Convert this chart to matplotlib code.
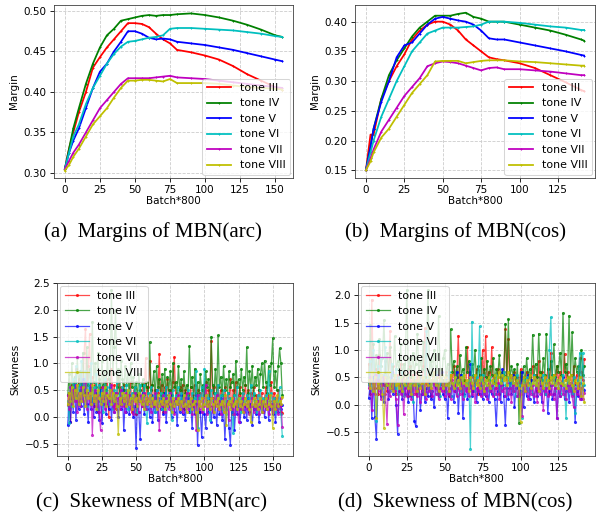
import numpy as np
import matplotlib.pyplot as plt

tones = ["tone III", "tone IV", "tone V", "tone VI", "tone VII", "tone VIII"]
colors = ["r", "g", "b", "c", "m", "y"]

# (a) margins of MBN(arc)
xa = [0, 3, 6, 10, 15, 20, 25, 30, 35, 40, 45, 50, 55, 60, 65, 70, 75, 80, 90, 100, 110, 120, 130, 140, 150, 155]
ma_3 = [.305, .33, .35, .375, .40, .43, .443, .455, .465, .475, .485, .485, .484, .48, .472, .465, .46, .452, .449, .445, .44, .432, .422, .414, .406, .403]
ma_4 = [.305, .33, .355, .38, .41, .435, .455, .47, .478, .488, .49, .492, .494, .495, .494, .495, .495, .496, .497, .495, .492, .488, .483, .477, .470, .468]
ma_5 = [.305, .325, .34, .355, .38, .405, .425, .435, .45, .462, .475, .475, .472, .467, .465, .466, .465, .462, .46, .458, .455, .452, .448, .444, .44, .438]
ma_6 = [.305, .325, .345, .36, .385, .405, .42, .435, .447, .456, .462, .463, .465, .467, .468, .47, .478, .479, .479, .478, .477, .476, .474, .472, .469, .468]
ma_7 = [.305, .315, .325, .335, .35, .365, .38, .39, .40, .41, .417, .417, .417, .417, .418, .419, .420, .418, .417, .416, .414, .412, .41, .408, .406, .405]
ma_8 = [.303, .31, .32, .33, .345, .36, .37, .38, .393, .405, .414, .414, .415, .415, .414, .413, .416, .411, .411, .411, .41, .408, .406, .405, .404, .403]

# (b) margins of MBN(cos)
xb = [0, 3, 5, 10, 15, 20, 25, 30, 35, 40, 45, 50, 55, 60, 65, 70, 75, 80, 85, 90, 100, 110, 120, 130, 140, 142]
mb_3 = [.15, .21, .21, .27, .30, .325, .345, .37, .385, .395, .40, .40, .395, .385, .37, .36, .35, .34, .337, .335, .33, .322, .31, .298, .285, .283]
mb_4 = [.15, .19, .22, .27, .31, .335, .355, .375, .39, .40, .41, .41, .41, .413, .415, .408, .405, .40, .40, .40, .395, .39, .385, .378, .37, .368]
mb_5 = [.15, .19, .22, .265, .30, .34, .36, .365, .38, .395, .405, .408, .405, .402, .40, .395, .385, .372, .37, .37, .365, .36, .355, .35, .344, .343]
mb_6 = [.15, .18, .20, .24, .27, .30, .325, .35, .365, .38, .385, .39, .39, .39, .391, .392, .395, .40, .40, .40, .398, .395, .392, .39, .386, .386]
mb_7 = [.15, .17, .185, .215, .235, .255, .275, .29, .305, .325, .33, .333, .332, .33, .326, .322, .318, .322, .323, .32, .32, .318, .316, .313, .31, .31]
mb_8 = [.15, .165, .18, .205, .22, .24, .26, .28, .295, .31, .333, .334, .334, .334, .33, .332, .334, .335, .335, .335, .333, .332, .33, .328, .326, .326]

# (c) skewness of MBN(arc), one value per batch step
sc_3 = [0.22, 0.45, -0.10, 0.60, 0.35, 0.55, 0.90, 0.30, 0.70, 0.50,
        0.85, 0.40, 1.20, 1.65, 0.45, 0.95, 1.55, 0.30, 0.75, 0.20,
        0.60, 0.45, 0.10, 0.80, 0.35, 0.55, 0.25, 0.65, 0.40, 0.70,
        0.00, 0.50, 0.90, 0.30, 0.60, 0.15, 0.45, 0.75, 0.25, 0.55,
        0.35, 0.60, 0.20, 0.50, 0.40, 0.30, 0.65, 0.10, 0.45, 0.55,
        0.05, 0.40, 0.30, 0.50, 0.20, 0.60, 0.45, 1.10, 0.30, 0.55,
        1.05, 0.40, 0.60, 0.20, 0.50, 0.35, 0.45, 1.18, 0.25, 0.60,
        0.10, 0.55, 0.40, 0.70, 0.30, 0.50, 0.20, 0.65, 1.12, 0.35,
        0.45, 0.25, 0.55, 0.40, 0.60, 0.15, 0.50, 0.35, 0.45, 0.30,
        0.55, 0.20, 0.40, 0.60, 0.25, 0.50, 0.10, 0.45, 0.35, 0.55,
        0.40, 0.65, 0.30, 0.50, 0.20, 1.42, 0.35, 0.55, 0.25, 0.45,
        0.60, 0.30, 0.50, 0.15, 0.40, 0.55, 0.25, 0.45, 0.35, 0.70,
        0.05, 0.50, 0.30, 0.65, 0.20, 0.40, 0.55, 0.25, 0.45, 0.35,
        0.60, 0.30, 0.50, 0.10, 0.45, 0.35, 0.55, 0.20, 0.40, 0.30,
        0.50, 0.25, 0.45, 0.10, 0.35, 0.55, 0.20, 0.40, 0.30, 0.65,
        0.25, 0.45, 0.35, 0.15, 0.50, 0.20, 0.10, 0.08]
sc_4 = [0.40, 0.80, 0.30, 1.00, 0.55, 0.75, 0.40, 1.10, 0.60, 0.85,
        0.50, 1.20, 0.70, 0.45, 1.30, 0.60, 0.90, 0.50, 1.78, 0.65,
        1.00, 0.55, 1.20, 0.70, 0.40, 1.05, 0.60, 0.85, 0.50, 1.10,
        0.70, 0.60, 2.36, 0.80, 1.30, 2.00, 0.55, 0.90, 0.45, 1.05,
        0.70, 0.50, 0.95, 0.60, 0.80, 0.40, 1.00, 0.55, 0.75, 0.45,
        0.65, 0.35, 0.80, 0.50, 0.60, 0.70, 0.40, 0.65, 0.55, 0.45,
        1.40, 0.50, 0.60, 0.85, 0.35, 0.95, 0.55, 0.70, 0.40, 0.80,
        0.45, 0.90, 0.35, 0.75, 0.50, 0.85, 0.40, 1.00, 0.55, 0.65,
        0.40, 0.95, 0.50, 0.70, 0.30, 0.85, 0.45, 0.60, 0.40, 1.32,
        0.55, 0.75, 0.35, 0.90, 0.45, 0.65, 0.30, 0.80, 0.50, 0.60,
        0.40, 0.85, 0.55, 0.70, 0.35, 1.50, 0.60, 0.45, 0.90, 0.40,
        1.52, 0.55, 0.75, 0.40, 0.95, 0.50, 0.70, 0.45, 0.85, 0.55,
        0.65, 0.80, 0.40, 1.05, 0.55, 0.70, 0.45, 0.90, 0.50, 0.75,
        0.60, 1.30, 0.45, 0.85, 0.55, 0.95, 0.40, 0.75, 0.60, 0.90,
        0.50, 0.80, 1.00, 0.55, 1.05, 0.65, 0.45, 0.95, 0.60, 1.00,
        1.47, 0.55, 0.85, 0.50, 0.95, 1.28, 1.00, 0.40]
sc_5 = [-0.15, 0.30, -0.10, 0.45, 0.10, 0.60, -0.05, 0.35, 0.15, 0.50,
        0.20, 0.70, 0.05, 0.40, 0.25, -0.10, 0.55, 0.15, 0.35, 0.00,
        0.45, 0.10, 0.30, -0.05, 0.50, -0.12, 0.25, 0.40, 0.05, 0.35,
        0.15, 0.55, -0.05, 0.30, 0.10, 0.45, 0.20, 0.00, 0.35, 0.15,
        0.50, -0.25, 0.30, 0.10, 0.40, 0.05, 0.25, 0.35, 0.00, 0.20,
        -0.58, 0.30, 0.10, -0.42, 0.25, 0.45, 0.05, 0.35, 0.15, 0.30,
        0.00, 0.40, -0.10, 0.25, 0.10, 0.50, -0.05, 0.30, 0.15, 0.35,
        0.05, 0.45, -0.10, 0.25, 0.20, 0.40, 0.00, 0.30, 0.10, 0.35,
        -0.15, 0.25, 0.10, 0.40, 0.05, 0.30, -0.05, 0.20, 0.35, 0.10,
        0.25, -0.20, 0.30, 0.05, 0.40, -0.52, 0.20, 0.10, -0.38, 0.25,
        0.05, -0.20, 0.30, 0.10, 0.35, -0.10, 0.20, 0.00, 0.30, -0.15,
        0.25, 0.05, 0.35, -0.05, 0.20, -0.42, 0.15, 0.30, -0.20, -0.52,
        0.10, 0.25, -0.25, 0.20, 0.05, 0.35, -0.10, 0.15, 0.30, 0.00,
        0.20, -0.05, 0.35, 0.10, 0.25, -0.15, 0.15, 0.30, 0.05, 0.20,
        -0.10, 0.25, 0.10, 0.30, 0.00, 0.20, 0.35, -0.05, 0.15, 0.25,
        0.05, 0.30, -0.10, 0.20, 0.10, 0.25, 0.15, 0.22]
sc_6 = [0.30, -0.12, 0.55, 0.20, 0.70, 0.35, 0.95, 0.25, 0.60, 0.45,
        1.05, 0.30, 0.50, 0.85, 0.20, 0.65, 0.40, 1.00, 0.25, 0.55,
        0.35, 0.80, 0.15, 0.60, 0.30, 0.50, 0.10, 0.70, 0.40, 0.55,
        0.25, 0.60, 0.35, 0.15, 0.50, 0.30, 0.65, 0.20, 0.45, 0.35,
        0.55, 0.25, 0.40, 0.60, 0.15, 0.50, 0.30, 0.45, 0.20, 0.55,
        0.35, 0.10, 0.45, 0.60, 0.25, 0.40, 0.60, 0.15, -0.12, 0.45,
        0.30, 0.55, 0.20, 0.40, 0.10, 0.50, 0.35, 0.25, 0.45, 0.15,
        0.40, 0.30, 0.55, 0.20, 0.45, 0.35, -0.05, 0.50, 0.25, 0.40,
        0.30, 0.55, 0.15, 0.45, 0.25, 0.40, 0.35, 0.20, 0.50, 0.30,
        0.10, 0.45, 0.25, 0.35, 0.85, -0.20, 0.40, 0.30, 0.55, 0.15,
        0.90, 0.25, 0.40, 0.35, -0.05, 0.50, 0.30, 0.20, 0.45, 0.35,
        0.60, 0.25, 0.40, 0.15, 0.50, 0.30, 0.05, 0.45, 0.25, 0.35,
        0.15, -0.30, 0.40, 0.25, 0.55, 0.20, 0.35, 0.10, 0.45, 0.30,
        0.25, 0.40, 0.15, 0.35, 0.60, 0.20, 0.45, 0.30, 0.10, 0.40,
        0.25, 0.50, 0.15, 0.35, 0.20, 0.40, 0.30, 0.85, 0.25, 0.45,
        0.20, 0.35, 0.10, 0.30, 0.15, 0.55, 0.05, -0.35]
sc_7 = [0.40, 0.15, 0.55, 0.25, 0.50, 0.30, 0.60, 0.10, 0.45, 0.20,
        0.55, 0.30, 0.40, 0.65, 0.15, 0.45, 0.25, 0.60, -0.33, 0.35,
        0.50, 0.20, 0.40, 0.10, -0.25, 0.35, 0.55, 0.15, 0.45, 0.25,
        0.40, 0.30, 0.60, 0.20, 0.10, 0.45, 0.25, 0.35, 0.15, 0.50,
        0.20, 0.35, 0.10, 0.45, 0.25, 0.40, 0.15, 0.30, 0.05, 0.45,
        0.25, 0.35, 0.10, 0.40, 0.20, 0.30, 0.45, 0.15, 0.35, 0.25,
        0.40, 0.10, 0.30, 0.20, 0.45, 0.15, 0.35, -0.25, 0.30, 0.20,
        0.40, 0.10, 0.35, 0.25, 0.15, 0.45, 0.20, 0.30, 0.05, 0.35,
        0.25, 0.40, 0.15, 0.30, 0.10, 0.35, 0.20, 0.45, 0.15, 0.25,
        0.35, 0.05, 0.30, 0.20, -0.25, 0.40, 0.15, 0.30, 0.10, 0.35,
        0.20, 0.60, 0.05, 0.25, 0.15, 0.35, 0.10, 0.30, 0.20, 0.40,
        0.15, 0.30, 0.05, 0.25, 0.35, 0.10, 0.20, 0.30, -0.05, 0.25,
        0.15, 0.35, 0.05, 0.20, 0.30, -0.10, 0.25, 0.15, 0.35, 0.10,
        0.25, 0.15, 0.30, 0.05, 0.20, 0.35, 0.10, 0.25, 0.15, 0.30,
        0.05, 0.20, 0.30, 0.10, 0.25, 0.15, 0.35, 0.05, 0.20, 0.25,
        0.10, 0.30, 0.15, 0.25, 0.05, 0.20, 0.35, -0.18]
sc_8 = [0.25, 0.45, 0.30, 0.55, 0.20, 0.50, 0.35, 0.60, 0.25, 0.45,
        0.30, 0.55, 0.40, 0.20, 0.50, 0.35, 0.45, 0.25, 0.60, 0.30,
        0.40, 0.15, 0.50, 0.35, 0.25, 0.45, 0.30, 0.55, 0.20, 0.40,
        0.35, 0.50, 0.25, 0.45, 0.30, 0.40, 0.20, -0.32, 0.35, 0.25,
        0.45, 0.30, 0.40, 0.20, 0.50, 0.25, 0.35, 0.15, 0.40, 0.30,
        0.35, 0.20, 0.45, 0.30, 0.25, 0.40, 0.15, 0.35, 0.25, 0.30,
        0.40, 0.20, 0.35, 0.25, 0.30, 0.15, 0.40, 0.20, 0.30, 0.25,
        0.35, 0.15, 0.30, 0.20, 0.40, 0.25, 0.10, 0.35, 0.20, 0.30,
        0.25, 0.35, 0.15, 0.30, 0.20, 0.40, 0.25, 0.10, 0.30, 0.20,
        0.35, 0.15, 0.25, 0.30, 0.10, -0.25, 0.30, 0.20, 0.35, 0.15,
        0.25, 0.40, 0.20, 0.30, 0.15, 0.35, 0.25, 0.10, 0.30, 0.20,
        0.35, 0.15, 0.25, 0.30, 0.10, 0.40, -0.15, 0.25, 0.30, 0.15,
        0.35, 0.20, 0.25, 0.30, 0.15, 0.35, 0.20, 0.30, 0.10, 0.25,
        0.35, 0.20, 0.30, 0.15, -0.10, 0.25, 0.35, 0.20, 0.30, 0.15,
        0.25, 0.35, 0.10, 0.30, 0.20, 0.35, 0.15, 0.25, 0.40, 0.20,
        -0.20, 0.30, 0.15, 0.40, 0.20, 0.30, 0.25, 0.38]

# (d) skewness of MBN(cos)
sd_3 = [0.75, 0.20, 1.92, 0.50, 0.30, 0.65, 0.20, 0.90, 0.40, 0.55,
        0.35, 0.80, 0.25, 0.60, 1.35, 0.30, 0.70, 0.45, 0.20, 0.55,
        0.40, 0.75, 0.25, 0.60, 0.35, 0.50, 0.15, 0.70, 0.30, 0.55,
        0.45, 0.20, 0.60, 0.35, 0.50, 0.25, 0.70, 1.40, 0.40, 0.30,
        0.55, 0.15, 0.45, 0.60, 0.30, 0.50, 0.20, 0.65, 0.35, 0.45,
        0.25, 0.60, 0.40, 0.15, 0.55, 0.35, 0.70, 0.30, 0.50, 1.26,
        0.40, 0.55, 0.20, 0.45, 0.35, 1.05, 0.30, 0.60, 0.25, 0.50,
        0.40, 0.65, 0.20, 0.55, 0.35, 1.00, 0.30, 1.25, 0.45, 0.60,
        0.25, 1.05, 0.40, 0.55, 0.30, 0.65, 0.20, 0.50, 0.35, 0.60,
        1.38, 0.45, 1.20, 0.30, 0.55, 0.25, 0.60, 0.40, 0.50, 0.20,
        0.65, 0.35, 0.50, 0.25, 0.60, 0.40, 0.55, 0.30, 0.70, 0.45,
        0.55, 0.25, 0.80, 0.35, 0.60, 0.30, 0.50, 0.40, 0.65, 0.20,
        0.95, 0.45, 0.55, 0.30, 0.70, 0.40, 0.60, 0.35, 0.50, 0.93,
        0.45, 0.60, 0.35, 0.55, 0.25, 0.70, 0.40, 0.55, 0.30, 0.85,
        0.60, 0.45, 0.84]
sd_4 = [0.40, 1.45, 0.60, 1.10, 0.55, 0.90, 0.45, 1.20, 0.70, 0.85,
        1.55, 0.60, 0.95, 0.50, 1.05, 0.70, 0.55, 1.25, 0.65, 0.80,
        0.60, 1.10, 0.50, 0.75, 0.55, 2.10, 0.65, 0.85, 0.50, 0.95,
        0.60, 0.75, 1.30, 0.55, 0.80, 0.65, 1.15, 0.50, 0.90, 2.10,
        0.60, 0.80, 0.55, 1.00, 0.70, 0.50, 1.62, 0.65, 0.45, 0.85,
        1.00, 0.55, 0.75, 0.45, 1.38, 0.60, 0.80, 0.50, 0.70, 0.40,
        0.90, 0.55, 0.65, 0.45, 1.05, 0.60, 0.80, 0.40, 0.75, 0.55,
        1.00, 0.45, 0.70, 0.55, 0.85, 0.40, 0.65, 0.50, 0.80, 0.45,
        0.70, 0.55, 0.85, 0.40, 0.65, 0.50, 0.90, 0.45, 0.60, 0.55,
        1.48, 0.50, 1.56, 0.45, 0.70, 0.55, 0.65, 0.40, 0.75, -0.33,
        0.60, 0.45, 0.70, 0.35, 0.85, 0.50, 0.65, 0.45, 1.28, 0.55,
        0.75, 0.50, 1.30, 0.60, 0.45, 0.85, 0.55, 1.30, 0.65, 0.45,
        0.80, 0.55, 1.10, 0.50, 0.70, 0.60, 0.95, 0.55, 1.68, 0.60,
        0.75, 0.50, 1.63, 0.55, 1.32, 0.45, 0.85, 0.60, 0.70, 0.50,
        1.00, 0.55, 0.70]
sd_5 = [0.12, 0.40, -0.25, 0.50, -0.23, -0.62, 0.30, 0.55, 0.15, 0.40,
        0.05, 0.35, 0.50, 0.10, 0.30, 0.60, 0.20, 0.45, 0.00, -0.53,
        0.25, 0.40, 0.10, 0.35, 0.20, 0.50, 0.05, 0.30, 0.15, 0.40,
        -0.30, -0.40, 0.25, 0.35, -0.10, 0.20, 0.45, 0.05, 0.30, 0.15,
        0.40, 0.10, 0.25, -0.05, 0.35, 0.55, 0.15, 0.30, 0.60, 0.20,
        0.10, 0.45, -0.25, 0.30, 0.15, 0.40, 0.05, 0.25, 0.60, -0.15,
        0.30, 0.55, -0.25, 0.20, 0.40, 0.10, 0.35, 0.75, 0.15, 0.25,
        0.45, 0.05, 0.30, 0.20, 0.50, 0.10, 0.40, 0.15, 0.35, 0.05,
        0.30, 0.20, 0.45, 0.10, -0.38, 0.25, 0.35, 0.05, 0.65, 0.15,
        -0.37, 0.30, 0.10, 0.40, 0.20, 0.55, -0.05, 0.30, 0.45, 0.15,
        0.25, 0.60, -0.05, 0.35, 0.15, 0.55, 0.10, 0.45, 0.20, 0.05,
        0.35, 0.15, 0.25, 0.50, 0.05, 0.30, 0.20, 0.40, -0.15, 0.25,
        0.35, 0.10, 0.20, 0.45, -0.25, 0.30, 0.15, 0.35, 0.50, 0.10,
        0.25, 0.40, 0.05, 0.30, 0.20, 0.35, -0.32, 0.25, 0.15, 0.40,
        0.10, 0.35, 0.27]
sd_6 = [0.35, 0.80, 0.25, 1.00, 0.50, -0.30, 0.70, 0.40, 0.85, 0.30,
        0.55, 1.05, 0.35, 0.60, 0.25, 0.75, 0.45, 0.30, 0.65, 0.20,
        0.50, 0.35, 0.60, 0.15, 0.45, 0.30, 0.55, 0.25, 0.40, 0.05,
        0.50, 0.30, 0.40, 0.20, 0.55, 0.35, 0.25, 0.45, 1.35, 0.30,
        0.50, 0.25, 0.45, 0.35, 0.60, 0.20, 0.40, 0.15, 0.55, 0.30,
        0.45, 0.25, 0.35, 0.60, 0.15, 0.40, 0.30, 0.50, 0.20, 0.45,
        0.35, 0.25, 0.55, 0.15, 0.40, 0.30, 0.45, -0.81, 1.52, 0.35,
        0.25, 0.50, 0.40, 1.43, 0.30, 0.55, 0.20, 0.45, 0.35, 0.25,
        0.50, 0.30, 0.45, 0.20, 0.55, 0.35, 0.25, 0.45, 0.30, 0.60,
        0.35, 0.20, 0.50, 0.30, 0.45, 0.25, 0.40, 0.15, 0.55, 0.35,
        0.20, -0.25, 0.45, 0.30, 0.50, 0.25, 0.40, 0.35, 0.20, 0.55,
        0.30, 0.45, 0.25, 0.40, 0.35, 0.55, 0.20, 0.45, 0.30, 1.00,
        1.60, 0.35, 0.50, 0.25, 0.45, 0.30, 0.40, 0.20, 0.55, 0.35,
        -0.25, 0.45, 0.30, 0.40, 0.20, 0.50, -0.15, 0.35, 0.45, 0.95,
        0.30, 0.95, 0.36]
sd_7 = [0.30, 0.50, -0.10, 0.40, 0.20, 0.55, 0.25, 0.45, 0.10, 0.35,
        0.50, 0.20, -0.35, 0.40, 0.15, 0.30, 0.45, 0.25, 0.10, -0.37,
        0.35, 0.20, 0.45, -0.18, 0.30, 0.15, 0.40, 0.25, 0.10, 0.35,
        0.20, 0.45, 0.15, 0.30, 0.05, 0.40, 0.20, 0.35, 0.10, 0.45,
        0.25, 0.30, 0.15, 0.40, 0.20, 0.35, 0.10, 0.30, 0.25, 0.40,
        0.15, 0.35, 0.20, 0.30, 0.10, 0.45, 0.25, 0.35, 0.15, 0.30,
        0.20, 0.40, 0.10, 0.35, 0.25, 0.30, 0.15, 0.40, 0.20, 0.35,
        0.05, 0.30, 0.25, 0.40, 0.15, 0.35, 0.20, 0.30, 0.10, 0.40,
        0.25, 0.35, 0.15, 0.30, 0.20, 0.40, 0.10, 0.35, 0.25, 0.30,
        0.15, 0.40, 0.20, 0.30, 0.05, 0.35, 0.25, 0.40, 0.15, 0.30,
        0.20, -0.20, 0.35, 0.25, 0.40, 0.10, 0.30, 0.20, 0.35, 0.15,
        0.30, 0.05, 0.40, 0.20, 0.35, -0.10, 0.25, 0.30, 0.15, 0.40,
        0.20, 0.35, 0.10, 0.30, -0.25, 0.40, 0.15, 0.35, 0.20, 0.30,
        0.10, 0.35, 0.25, 0.40, 0.15, -0.05, 0.30, 0.20, 0.35, 0.10,
        0.30, 0.10, 0.22]
sd_8 = [0.45, 0.30, 0.60, 0.25, 0.50, -0.25, 0.40, 0.30, 0.55, 0.20,
        -0.43, 0.50, 0.35, 0.60, 0.30, 0.45, 0.25, 0.55, 0.35, 0.40,
        0.30, 0.50, 0.25, 0.45, 0.35, 0.55, 0.30, 0.40, 0.20, 0.50,
        0.35, 0.45, 0.25, 0.55, 0.30, 0.40, 0.50, 0.20, 0.45, 0.35,
        0.55, 0.30, 0.45, 0.60, 0.35, 0.50, 0.25, 0.45, 0.55, 0.30,
        0.50, 0.35, 0.45, 0.25, 0.55, 0.40, 0.30, 0.50, 0.35, 0.45,
        0.30, 0.50, 0.40, 0.55, 0.35, 0.45, 0.25, 0.50, 0.40, 0.30,
        0.55, 0.35, 0.45, 0.30, 0.50, 0.40, 0.25, 0.45, 0.35, 0.50,
        0.30, 0.45, 0.40, 0.55, 0.35, 0.50, 0.60, 0.40, 0.55, 0.45,
        0.50, 0.35, 0.60, 0.45, 0.55, 0.40, 0.50, 0.35, 0.45, 0.30,
        -0.32, 0.35, 0.50, 0.25, 0.45, 0.35, 0.55, 0.30, 0.40, 0.50,
        0.35, 0.45, 0.25, 0.55, 0.40, 0.30, 0.50, 0.35, 0.45, 0.30,
        0.50, 0.40, 0.55, 0.35, 0.45, 0.30, 0.50, 0.40, 0.35, 0.45,
        0.30, 0.50, 0.40, 0.55, 0.35, 0.25, 0.45, 0.40, 0.30, 0.50,
        0.15, 0.40, 0.04]

W, H = 598, 521


def px_axes(fig, l, t, r, b):
    return fig.add_axes([l / W, 1 - b / H, (r - l) / W, (b - t) / H])


def style(ax, ylabel):
    ax.grid(True, linestyle="--", color="0.8", linewidth=0.8)
    ax.set_axisbelow(True)
    ax.set_xlabel("Batch*800", labelpad=1)
    ax.set_ylabel(ylabel)
    for s in ax.spines.values():
        s.set_color("0.25")


def margin_panel(ax, x, series, ylim, xlim):
    for y, c, lab in zip(series, colors, tones):
        ax.plot(x, y, color=c, marker="+", markersize=2, linewidth=1.7, label=lab)
    ax.set_xlim(*xlim)
    ax.set_ylim(*ylim)
    style(ax, "Margin")
    ax.legend(loc="lower right", borderaxespad=0.3, handlelength=2.2, fontsize=10.5)


def skew_panel(ax, series, ylim, xlim):
    for y, c, lab in zip(series, colors, tones):
        ax.plot(np.arange(len(y)), y, color=c, marker=".", markersize=4,
                linewidth=1.2, alpha=0.7, label=lab)
    ax.set_xlim(*xlim)
    ax.set_ylim(*ylim)
    style(ax, "Skewness")
    ax.legend(loc="upper left", borderaxespad=0.3, handlelength=2.2, fontsize=10.5)


fig = plt.figure(figsize=(W / 75, H / 75), dpi=75)

ax_a = px_axes(fig, 54, 5, 293, 178)
margin_panel(ax_a, xa, [ma_3, ma_4, ma_5, ma_6, ma_7, ma_8], (0.2938, 0.5074), (-7.75, 162.75))
ax_b = px_axes(fig, 355, 5, 595, 178)
margin_panel(ax_b, xb, [mb_3, mb_4, mb_5, mb_6, mb_7, mb_8], (0.137, 0.428), (-7.1, 149.1))
ax_c = px_axes(fig, 57, 283, 293, 456)
skew_panel(ax_c, [sc_3, sc_4, sc_5, sc_6, sc_7, sc_8], (-0.73, 2.5), (-7.85, 164.85))
ax_d = px_axes(fig, 358, 283, 595, 456)
skew_panel(ax_d, [sd_3, sd_4, sd_5, sd_6, sd_7, sd_8], (-0.94, 2.225), (-7.1, 149.1))

caps = [("(a)  Margins of MBN(arc)", 153, 237), ("(b)  Margins of MBN(cos)", 455, 237),
        ("(c)  Skewness of MBN(arc)", 152, 507), ("(d)  Skewness of MBN(cos)", 455, 507)]
for txt, cx, cy in caps:
    fig.text(cx / W, 1 - cy / H, txt, ha="center", va="baseline",
             family="Liberation Serif", fontsize=20)

fig.savefig("out.png", dpi=75)
